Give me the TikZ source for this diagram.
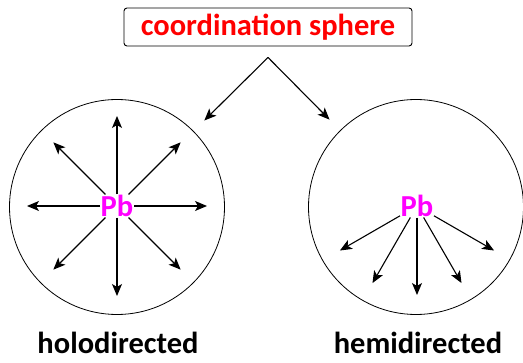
\documentclass[tikz,border=0pt]{standalone}
\usepackage{fontspec}
\setmainfont{Carlito}
\usetikzlibrary{arrows.meta,positioning}
\definecolor{leadpink}{RGB}{255,0,255}
\definecolor{titlered}{RGB}{255,0,0}

\begin{document}
\begin{tikzpicture}[
        x=1pt, y=-1pt,
        title/.style={draw, rectangle, rounded corners=3pt, line width=0.9pt, minimum width=288pt, minimum height=38pt, text=titlered, font=\fontsize{30.5}{36}\selectfont\bfseries},
        sphere/.style={draw, circle, line width=0.8pt, minimum size=215pt, inner sep=0pt},
        metal/.style={inner sep=0.5pt, text=leadpink, font=\fontsize{30.5}{36}\selectfont\bfseries},
        caption/.style={font=\fontsize{30.5}{36}\selectfont\bfseries},
        bond/.style={->, line width=1.1pt},
        >={Stealth[length=12pt,width=10pt,inset=3pt]}
    ]
        \useasboundingbox (0,0) rectangle (523,363);

        \node[title] (title) at (268,27) {coordination sphere};
        \coordinate[below=11pt of title] (split);

        \node[sphere] (holo) at (117,207) {};
        \node[sphere] (hemi) at (416,207) {};
        \node[metal] (pbholo) at (117,206) {Pb};
        \node[metal] (pbhemi) at (417,206) {Pb};

        \draw[bond, shorten >=15pt] (split) -- (holo);
        \draw[bond, shorten >=15pt] (split) -- (hemi);

        % all round the lead atom
        \foreach \a in {0,45,...,315}
            \draw[bond] (pbholo) -- ([shift={(\a:90)}]pbholo.center);

        % only to one side
        \foreach \a in {30,60,...,150}
            \draw[bond] (pbhemi) -- ([shift={(\a:89)}]pbhemi.center);

        \node[caption] (holotxt) at (118,343) {holodirected};
        \node[caption] (hemitxt) at (418,343) {hemidirected};
    \end{tikzpicture}
\end{document}
